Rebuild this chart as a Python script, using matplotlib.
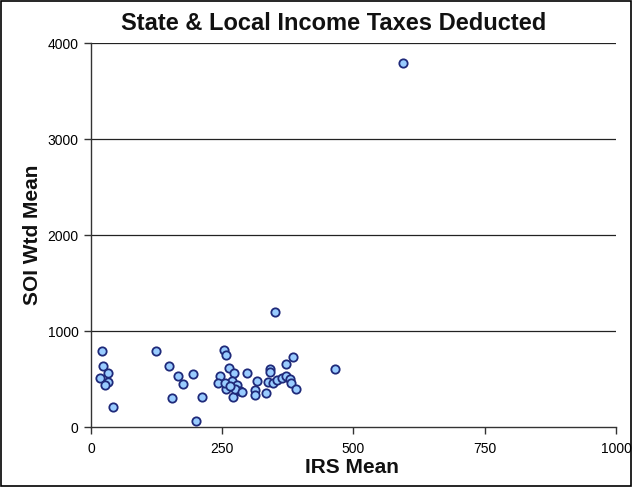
import matplotlib
matplotlib.use("Agg")
import matplotlib.pyplot as plt
from matplotlib.patches import Rectangle

plt.rcParams['font.family'] = ['Liberation Sans', 'DejaVu Sans']

irs_mean = [20, 23, 33, 17, 33, 27, 41, 124, 149, 166, 176, 194, 155, 212, 200,
            253, 257, 262, 273, 246, 242, 268, 257, 279, 284, 270, 298, 316, 312,
            312, 333, 340, 341, 338, 346, 354, 363, 371, 379, 381, 390, 385, 371,
            465, 594, 350, 255, 275, 287, 265]
soi_wtd_mean = [795, 632, 566, 514, 469, 434, 211, 795, 632, 531, 451, 552, 299, 316, 60,
                799, 750, 615, 566, 531, 461, 482, 396, 434, 378, 316, 566, 482, 385,
                333, 351, 601, 576, 472, 461, 490, 507, 531, 497, 455, 396, 732, 653,
                601, 3790, 1198, 461, 400, 365, 430]

x_ticks = [0, 250, 500, 750, 1000]
y_ticks = [0, 1000, 2000, 3000, 4000]

fig = plt.figure(figsize=(6.33, 4.87), dpi=100)
fig.patches.append(Rectangle((0.0015, 0.002), 0.996, 0.995, transform=fig.transFigure,
                             fill=False, edgecolor='black', linewidth=1.2))
ax = fig.add_axes([0.1438, 0.1232, 0.8293, 0.7885])

for yv in y_ticks[1:]:
    ax.axhline(yv, color='#222222', linewidth=0.9, zorder=1)

ax.scatter(irs_mean, soi_wtd_mean, s=36, facecolor='#99CCFF', edgecolor='#1F2A7A',
           linewidth=1.3, zorder=3, clip_on=False)

ax.set_xlim(0, 1000)
ax.set_ylim(0, 4000)
ax.set_xticks(x_ticks)
ax.set_yticks(y_ticks)
ax.set_xticklabels([str(v) for v in x_ticks], fontsize=10)
ax.set_yticklabels([str(v) for v in y_ticks], fontsize=10)
ax.tick_params(axis='x', direction='out', length=5, width=1, color='#333333', pad=6)
ax.tick_params(axis='y', direction='out', length=5, width=1, color='#333333', pad=4)

for s in ['top', 'right']:
    ax.spines[s].set_visible(False)
for s in ['left', 'bottom']:
    ax.spines[s].set_color('#333333')
    ax.spines[s].set_linewidth(1.0)

fig.text(0.527, 0.952, 'State & Local Income Taxes Deducted', ha='center', va='center',
         fontsize=17, fontweight='bold', color='#111111')
fig.text(0.556, 0.041, 'IRS Mean', ha='center', va='center',
         fontsize=15, fontweight='bold', color='#111111')
fig.text(0.051, 0.517, 'SOI Wtd Mean', ha='center', va='center', rotation=90,
         fontsize=15, fontweight='bold', color='#111111')

fig.savefig('out.png', dpi=100)
